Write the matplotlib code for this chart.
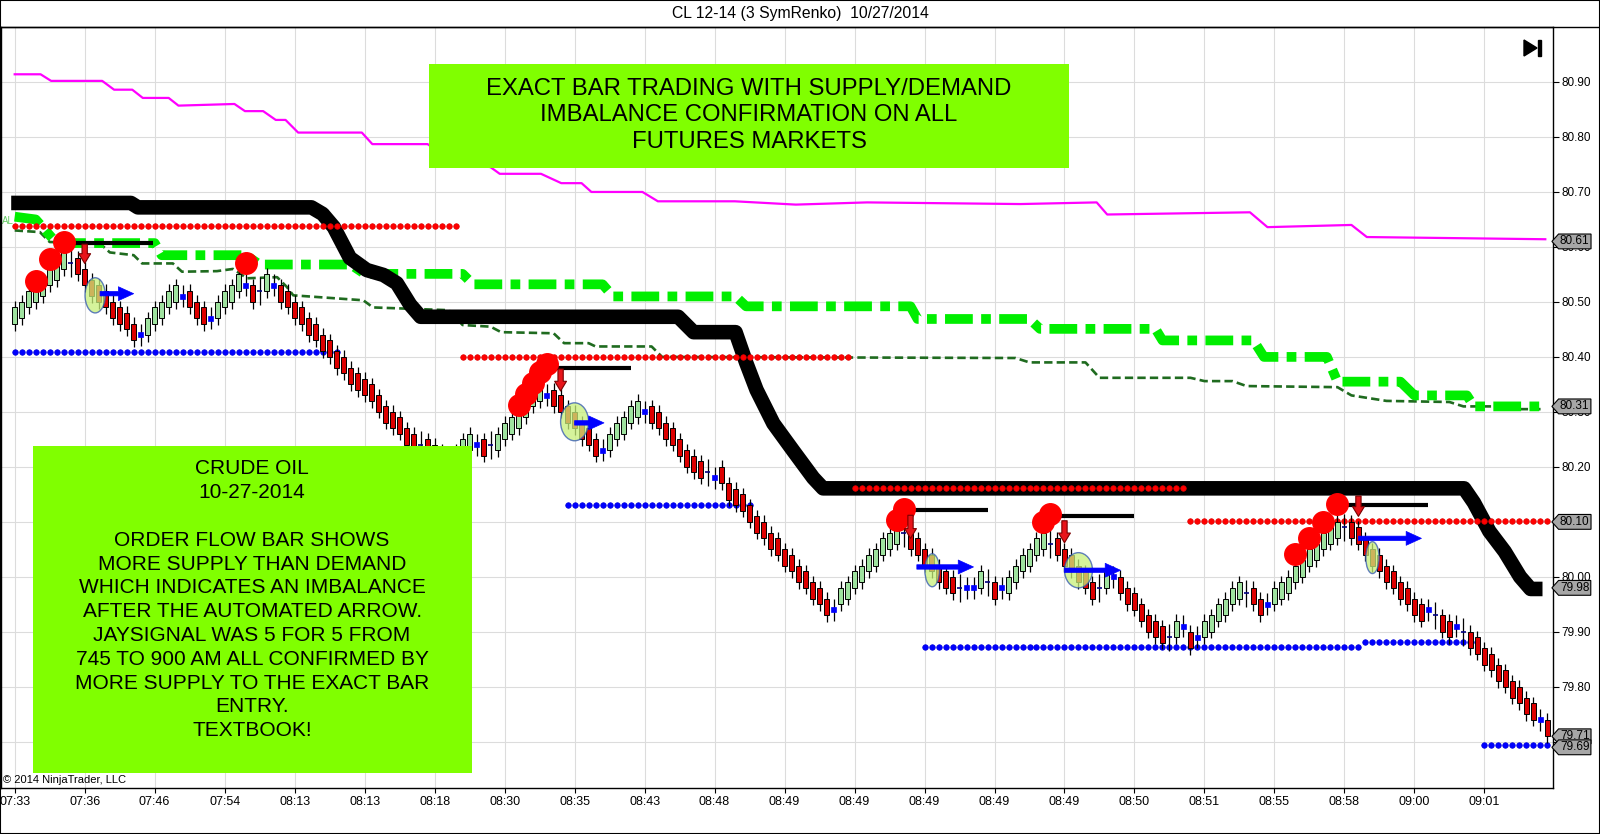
import numpy as np
import matplotlib.pyplot as plt
from matplotlib.patches import Rectangle, Ellipse, Polygon
from matplotlib.lines import Line2D
from matplotlib.path import Path
import matplotlib.transforms as mtransforms

plt.rcParams['font.family'] = ['Liberation Sans', 'DejaVu Sans']
plt.rcParams['lines.scale_dashes'] = False

# ---- renko bars: close price per bar, kind G=up R=down B=blue doji D=dash
closes = [
    80.49, 80.50, 80.52, 80.53, 80.54, 80.56, 80.57, 80.59, 80.57, 80.55,
    80.53, 80.51, 80.50, 80.49, 80.47, 80.46, 80.45, 80.43, 80.44, 80.47,
    80.49, 80.50, 80.52, 80.53, 80.51, 80.49, 80.47, 80.46, 80.47, 80.50,
    80.52, 80.53, 80.55, 80.53, 80.50, 80.52, 80.55, 80.53, 80.50, 80.49,
    80.47, 80.46, 80.44, 80.43, 80.41, 80.40, 80.38, 80.37, 80.35, 80.34,
    80.33, 80.32, 80.30, 80.28, 80.27, 80.26, 80.24, 80.23, 80.24, 80.22,
    80.21, 80.20, 80.22, 80.23, 80.25, 80.26, 80.24, 80.22, 80.24, 80.26,
    80.28, 80.29, 80.30, 80.32, 80.34, 80.35, 80.33, 80.31, 80.30, 80.28,
    80.27, 80.25, 80.24, 80.22, 80.23, 80.26, 80.28, 80.29, 80.31, 80.32,
    80.30, 80.28, 80.27, 80.25, 80.24, 80.22, 80.20, 80.19, 80.18, 80.19,
    80.18, 80.17, 80.14, 80.13, 80.12, 80.10, 80.08, 80.07, 80.05, 80.04,
    80.02, 80.01, 79.99, 79.98, 79.96, 79.95, 79.93, 79.94, 79.98, 79.99,
    80.01, 80.02, 80.04, 80.05, 80.07, 80.08, 80.09, 80.08, 80.05, 80.04,
    80.02, 80.01, 79.99, 79.98, 79.97, 79.98, 79.98, 79.98, 80.01, 79.99,
    79.96, 79.98, 80.00, 80.02, 80.04, 80.05, 80.07, 80.08, 80.06, 80.04,
    80.02, 80.01, 79.99, 79.98, 79.96, 79.98, 80.01, 80.00, 79.97, 79.95,
    79.94, 79.92, 79.90, 79.89, 79.88, 79.89, 79.92, 79.91, 79.87, 79.89,
    79.92, 79.93, 79.95, 79.96, 79.98, 79.99, 79.97, 79.95, 79.93, 79.95,
    79.98, 79.99, 80.00, 80.02, 80.03, 80.05, 80.06, 80.08, 80.09, 80.10,
    80.09, 80.07, 80.06, 80.04, 80.02, 80.01, 79.99, 79.98, 79.96, 79.95,
    79.93, 79.92, 79.94, 79.93, 79.90, 79.89, 79.91, 79.90, 79.87, 79.86,
    79.84, 79.83, 79.81, 79.80, 79.78, 79.77, 79.75, 79.74, 79.74, 79.71,
]
kinds = ("GGGGGGGGDR" "RRRRRRRRBG" "GGGGBRRRBG" "GGGBRDGBRR" "RRRRRRRRRR"
         "RRRRRRRRDR" "RRGGGGBRDG" "GGGGGGBRRR" "RRRRBGGGGG" "BRRRRRRRRD"
         "BRRRRRRRRR" "RRRRRRRBGG" "GGGGGGGDRR" "RRRRRDBBGD" "RBGGGGGGDR"
         "RRRRRDGBRR" "RRRRRDGBRB" "GGGGGGDRRB" "GGGGGGGGGG" "DRRRRRRRRR"
         "RRBDRRBDRR" "RRRRRRRRBR")

time_labels = ['07:33', '07:36', '07:46', '07:54', '08:13', '08:13', '08:18',
               '08:30', '08:35', '08:43', '08:48', '08:49', '08:49', '08:49',
               '08:49', '08:49', '08:50', '08:51', '08:55', '08:58', '09:00',
               '09:01']

# ---- indicator lines (bar index, price)
magenta_x = [0, 3.7, 5.2, 12.5, 14.2, 16.8, 18.3, 22, 23.4, 31.4, 32.9, 35.5,
             37.3, 38.7, 40.5, 49.6, 51.1, 59, 62, 68, 69.3, 75.2, 78.1, 81,
             82.4, 89.7, 91.9, 102.9, 111.6, 121.8, 143.7, 154.6, 156.1,
             176.5, 179, 191, 193.2, 218.7]
magenta_y = [80.914, 80.914, 80.902, 80.902, 80.886, 80.886, 80.871, 80.871,
             80.857, 80.860, 80.847, 80.847, 80.831, 80.831, 80.808, 80.808,
             80.787, 80.787, 80.76, 80.745, 80.733, 80.733, 80.716, 80.716,
             80.700, 80.700, 80.683, 80.683, 80.677, 80.681, 80.678, 80.681,
             80.659, 80.663, 80.636, 80.640, 80.618, 80.614]

black_x = [-0.5, 16.6, 17.6, 42.4, 44, 45.6, 47.9, 50.3, 52.7, 54.6, 56.5, 58,
           94.8, 97, 103, 104.5, 106, 108.4, 111.2, 114.1, 115.5, 207.1,
           208.5, 210.7, 212.9, 215.1, 216.6, 218.3]
black_y = [80.68, 80.68, 80.672, 80.672, 80.66, 80.636, 80.58, 80.558, 80.549,
           80.534, 80.495, 80.473, 80.473, 80.445, 80.445, 80.39, 80.34,
           80.279, 80.23, 80.18, 80.161, 80.161, 80.135, 80.083, 80.046, 80.0,
           79.978, 79.978]

lime_x = [0, 3, 6, 20, 21, 33, 35, 48, 50, 64, 65.5, 84, 85.5, 103, 104.5,
          128, 129, 145, 146.5, 163, 164, 177, 178.5, 187.5, 189, 198, 200,
          207.5, 208.5, 218.5]
lime_y = [80.655, 80.65, 80.607, 80.607, 80.585, 80.585, 80.568, 80.568,
          80.551, 80.551, 80.532, 80.532, 80.51, 80.51, 80.492, 80.492, 80.469,
          80.469, 80.451, 80.451, 80.43, 80.43, 80.40, 80.40, 80.355, 80.355,
          80.33, 80.33, 80.31, 80.31]

trend_x = [0, 3.6, 5, 12.2, 13.6, 17, 18.2, 22.6, 23.9, 28.9, 31.2, 33.2,
           37.5, 38.9, 39.8, 49.8, 51.2, 62, 64, 68, 69.5, 77, 78.5, 82, 83,
           91, 92.5, 143, 145, 153, 155, 168, 170, 174, 176, 189, 191, 196,
           205, 207, 213, 214, 218.5]
trend_y = [80.63, 80.627, 80.609, 80.606, 80.59, 80.585, 80.57, 80.57, 80.555,
           80.556, 80.56, 80.543, 80.545, 80.527, 80.512, 80.503, 80.49,
           80.485, 80.458, 80.455, 80.445, 80.443, 80.425, 80.425, 80.419,
           80.419, 80.40, 80.398, 80.39, 80.39, 80.362, 80.362, 80.356,
           80.356, 80.347, 80.345, 80.33, 80.32, 80.318, 80.31, 80.31, 80.305,
           80.305]

# ---- dotted levels (first bar, last bar, price)
red_levels = [(0, 63, 80.638), (64, 119, 80.40), (120, 167, 80.161),
              (168, 219, 80.102)]
blue_levels = [(0, 46, 80.409), (79, 105, 80.13), (130, 192, 79.873),
               (193, 209, 79.882), (210, 219, 79.694)]

# ---- signals
dot_x = [3, 5, 7, 33, 72, 73, 74, 75, 76, 126, 127, 147, 148, 183, 185, 187, 189]
dot_y = [80.538, 80.578, 80.609, 80.57, 80.312, 80.333, 80.352, 80.373,
         80.388, 80.103, 80.124, 80.10, 80.115, 80.041, 80.07, 80.10, 80.133]
high_x0 = [8, 76, 127, 148, 190]
high_x1 = [19.8, 88, 139, 160, 202]
high_y = [80.608, 80.379, 80.121, 80.11, 80.13]
down_x = [10, 78, 128, 150, 192]
down_top = [80.605, 80.378, 80.112, 80.102, 80.147]
down_bot = [80.57, 80.338, 80.07, 80.062, 80.11]
ell_x = [11.5, 80, 131.1, 152, 194]
ell_y = [80.512, 80.282, 80.012, 80.012, 80.035]
ell_w = [2.9, 4, 2.1, 4, 1.9]
ell_h = [0.064, 0.069, 0.06, 0.064, 0.058]
entry_x0 = [12.2, 80, 128.9, 150, 192]
entry_x1 = [17, 84.2, 137, 158, 201]
entry_y = [80.515, 80.28, 80.018, 80.012, 80.07]

tag_values = [80.61, 80.31, 80.10, 79.98, 79.71, 79.69]

BRICK = 0.03
W, H = 1600, 834

fig = plt.figure(figsize=(W / 100, H / 100), dpi=100)
ax = fig.add_axes([1 / W, 46 / H, 1552 / W, 761 / H])
ax.set_xlim(-1.957, 219.8)
ax.set_ylim(79.616, 81.0)

# grid and axes
ax.set_xticks(range(0, 220, 10))
ax.set_xticklabels(time_labels, fontsize=9)
yt = np.round(np.arange(79.7, 80.95, 0.1), 2)
ax.set_yticks(yt)
# the 79.70 label sits under the last price tags, as in the original
ax.set_yticklabels(['' if v < 79.75 else f'{v:.2f}' for v in yt])
ax.yaxis.tick_right()
ax.tick_params(axis='y', labelsize=8.5, length=4.5, pad=1.5, width=0.8)
ax.tick_params(axis='x', length=3.6, pad=2, width=0.8)
ax.grid(True, color='#dcdcdc', lw=0.8, zorder=0)
ax.set_axisbelow(True)
for s in ax.spines.values():
    s.set_linewidth(1)

# indicator lines
ax.plot(magenta_x, magenta_y, color='#ff00ff', lw=1.6, zorder=2)
ax.plot(trend_x, trend_y, color='#1f6b1f', lw=1.9, ls=(0, (6, 3)), zorder=2)
ax.plot(lime_x, lime_y, color='#00ee00', lw=7, ls=(0, (20, 6, 7, 6)),
        dash_capstyle='butt', zorder=2)
ax.plot(black_x, black_y, color='black', lw=10.5, solid_capstyle='butt',
        solid_joinstyle='round', zorder=2.5)
ax.text(-1.8, 80.647, 'AL', color='#66cc66', fontsize=7, va='center',
        ha='left', zorder=2)

for x0, x1, y in red_levels:
    xs = np.arange(x0, x1 + 1)
    ax.plot(xs, [y] * len(xs), 'o', ms=4, color='#ff0000', mec='#e00000',
            mew=0.5, zorder=3)
for x0, x1, y in blue_levels:
    xs = np.arange(x0, x1 + 1)
    ax.plot(xs, [y] * len(xs), 'o', ms=4, color='#0000ff', mec='#0000dd',
            mew=0.5, zorder=3)

# renko candles
for i, (c, k) in enumerate(zip(closes, kinds)):
    if k in 'GR':
        lo = c - BRICK if k == 'G' else c
        ax.vlines(i, lo - 0.012, lo + BRICK + 0.012, color='black', lw=0.9,
                  zorder=4)
        fc = '#9fe29f' if k == 'G' else '#dd0000'
        ax.add_patch(Rectangle((i - 0.37, lo), 0.74, BRICK, fc=fc, ec='black',
                               lw=0.7, zorder=4.5))
    elif k == 'B':
        ax.vlines(i, c - 0.02, c + 0.02, color='black', lw=0.9, zorder=4)
        ax.add_patch(Rectangle((i - 0.37, c - 0.0045), 0.74, 0.009,
                               fc='#0000ff', ec='#0000ff', lw=0.5, zorder=4.5))
    else:
        ax.vlines(i, c - 0.025, c + 0.025, color='black', lw=0.9, zorder=4)
        ax.hlines(c, i - 0.37, i + 0.37, color='#000080', lw=1.2, zorder=4.5)

# signal ellipses, arrows, markers
for cx, cy, w, h in zip(ell_x, ell_y, ell_w, ell_h):
    ax.add_patch(Ellipse((cx, cy), w, h, fc='#c8f07a', alpha=0.75,
                         ec='#2f55b0', lw=1, zorder=5))
for x0, x1, y in zip(high_x0, high_x1, high_y):
    ax.plot([x0, x1], [y, y], color='black', lw=3, solid_capstyle='butt',
            zorder=6)
ax.plot(dot_x, dot_y, 'o', ms=15.5, color='#ff0000', mec='#ff0000', zorder=6)
for x, yt_, yb in zip(down_x, down_top, down_bot):
    ax.annotate('', xy=(x, yb), xytext=(x, yt_),
                arrowprops=dict(arrowstyle='simple,head_width=0.85,head_length=0.7,tail_width=0.38',
                                fc='#e8141a', ec='#7a0000', lw=0.8,
                                shrinkA=0, shrinkB=0, mutation_scale=10),
                zorder=7)
for x0, x1, y in zip(entry_x0, entry_x1, entry_y):
    ax.annotate('', xy=(x1, y), xytext=(x0, y),
                arrowprops=dict(arrowstyle='simple,head_width=1.0,head_length=1.1,tail_width=0.32',
                                fc='#0000ff', ec='#0000ff', lw=0.5,
                                shrinkA=0, shrinkB=0, mutation_scale=10),
                zorder=7)


# price tags on the right axis
def tag_box(x0, y0, width, height, mutation_size):
    pad = 0.12 * mutation_size
    x0, y0 = x0 - pad, y0 - pad
    x1, y1 = x0 + width + 2 * pad, y0 + height + 2 * pad
    tip = 0.45 * (y1 - y0)
    verts = [(x0, y0), (x1, y0), (x1, y1), (x0, y1), (x0 - tip, (y0 + y1) / 2),
             (x0, y0)]
    return Path(verts, closed=True)


blend = mtransforms.blended_transform_factory(ax.transAxes, ax.transData)
for v in tag_values:
    ax.text(1.0045, v, f'{v:.2f}', transform=blend, fontsize=8.5, ha='left',
            va='center', clip_on=False, zorder=10,
            bbox=dict(boxstyle=tag_box, fc='#a6a6a6', ec='black', lw=0.8))

# text boxes
ax.add_patch(Rectangle((0.2755, 0.8147), 0.4129, 0.1367, transform=ax.transAxes,
                       fc='#80ff00', ec='none', zorder=8))
ax.text(0.482, 0.8842, 'EXACT BAR TRADING WITH SUPPLY/DEMAND\n'
        'IMBALANCE CONFIRMATION ON ALL\nFUTURES MARKETS',
        transform=ax.transAxes, ha='center', va='center', fontsize=17.2,
        linespacing=1.27, zorder=9)
ax.add_patch(Rectangle((0.0204, 0.0197), 0.2829, 0.4297, transform=ax.transAxes,
                       fc='#80ff00', ec='none', zorder=8))
ax.text(0.1618, 0.2472, 'CRUDE OIL\n10-27-2014\n\nORDER FLOW BAR SHOWS\n'
        'MORE SUPPLY THAN DEMAND\nWHICH INDICATES AN IMBALANCE\n'
        'AFTER THE AUTOMATED ARROW.\nJAYSIGNAL WAS 5 FOR 5 FROM\n'
        '745 TO 900 AM ALL CONFIRMED BY\nMORE SUPPLY TO THE EXACT BAR\n'
        'ENTRY.\nTEXTBOOK!', transform=ax.transAxes, ha='center',
        va='center', fontsize=15, linespacing=1.32, zorder=9)

ax.text(0.0013, 0.004, '\u00a9 2014 NinjaTrader, LLC', transform=ax.transAxes,
        fontsize=8, ha='left', va='bottom', zorder=9)

# title, frame and the scroll icon
fig.text(0.5, 1 - 13.5 / H, 'CL 12-14 (3 SymRenko)  10/27/2014', ha='center',
         va='center', fontsize=11.3)
fig.add_artist(Line2D([0, 1], [1 - 27 / H] * 2, transform=fig.transFigure,
                      color='black', lw=1))
fig.add_artist(Rectangle((0, 0), 1, 1, transform=fig.transFigure, fill=False,
                         ec='black', lw=1.5))
fig.add_artist(Polygon([(1524 / W, 1 - 40 / H), (1524 / W, 1 - 56 / H),
                        (1537 / W, 1 - 48 / H)], closed=True,
                       transform=fig.transFigure, fc='black', ec='black'))
fig.add_artist(Rectangle((1538 / W, 1 - 56 / H), 3 / W, 16 / H,
                         transform=fig.transFigure, fc='black', ec='black'))

fig.savefig('out.png', dpi=100)
